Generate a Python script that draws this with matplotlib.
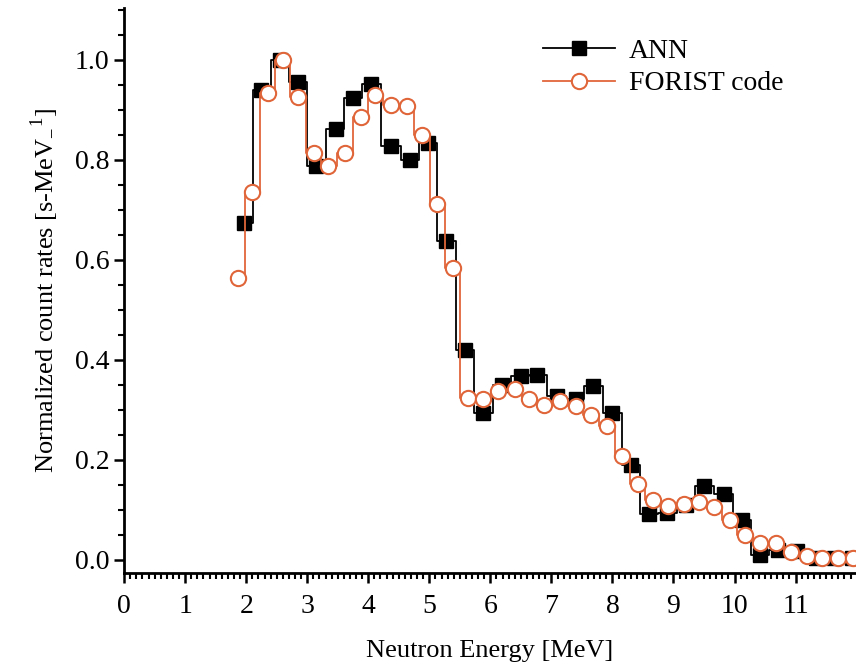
import numpy as np
import matplotlib
matplotlib.use("Agg")
import matplotlib.pyplot as plt
from matplotlib.ticker import MultipleLocator

plt.rcParams["font.family"] = ["Liberation Serif", "DejaVu Serif"]
plt.rcParams["mathtext.fontset"] = "custom"
plt.rcParams["mathtext.rm"] = "Liberation Serif"

# ANN unfolded spectrum
ann_e = [1.96, 2.25, 2.55, 2.85, 3.15, 3.47, 3.75, 4.05, 4.37, 4.69, 4.98, 5.28,
         5.58, 5.88, 6.19, 6.50, 6.77, 7.09, 7.40, 7.68, 8.00, 8.31, 8.60, 8.90,
         9.20, 9.50, 9.82, 10.13, 10.42, 10.72, 11.02, 11.33, 11.63, 11.93]
ann_y = [0.674, 0.940, 1.000, 0.955, 0.788, 0.862, 0.924, 0.952, 0.828, 0.799, 0.834, 0.638,
         0.420, 0.293, 0.349, 0.368, 0.369, 0.327, 0.322, 0.348, 0.293, 0.190, 0.092, 0.094,
         0.110, 0.148, 0.132, 0.080, 0.010, 0.019, 0.018, 0.004, 0.004, 0.004]

# FORIST code spectrum
forist_e = [1.87, 2.10, 2.35, 2.60, 2.85, 3.11, 3.34, 3.62, 3.88, 4.11, 4.37, 4.63, 4.88, 5.13,
            5.39, 5.63, 5.88, 6.13, 6.40, 6.64, 6.88, 7.14, 7.40, 7.65, 7.91, 8.16, 8.42, 8.66,
            8.91, 9.17, 9.41, 9.67, 9.92, 10.17, 10.42, 10.68, 10.93, 11.18, 11.43, 11.69, 11.94]
forist_y = [0.564, 0.736, 0.934, 1.000, 0.926, 0.814, 0.788, 0.814, 0.886, 0.930, 0.910, 0.907, 0.850, 0.712,
            0.584, 0.324, 0.322, 0.337, 0.341, 0.322, 0.310, 0.318, 0.307, 0.289, 0.268, 0.208, 0.151, 0.120,
            0.108, 0.111, 0.115, 0.105, 0.080, 0.050, 0.033, 0.033, 0.015, 0.007, 0.004, 0.004, 0.004]

orange = "#e0663a"

fig = plt.figure(figsize=(8.56, 6.67), dpi=100)
ax = fig.add_axes([0.145, 0.141, 0.855, 0.847])

ax.plot(ann_e, ann_y, color="black", lw=1.3, drawstyle="steps-mid",
        marker="s", ms=10, mfc="black", mec="black", label="ANN", zorder=3)
ax.plot(forist_e, forist_y, color=orange, lw=1.3, drawstyle="steps-mid",
        marker="o", ms=11, mfc="white", mec=orange, mew=1.5, label="FORIST code", zorder=4)

ax.set_xlim(0, 11.99)
ax.set_ylim(-0.026, 1.104)
ax.xaxis.set_major_locator(MultipleLocator(1))
ax.xaxis.set_minor_locator(MultipleLocator(0.1))
ax.yaxis.set_minor_locator(MultipleLocator(0.05))
ax.set_yticks([0.0, 0.2, 0.4, 0.6, 0.8, 1.0])
ax.set_yticklabels(["0.0", "0.2", "0.4", "0.6", "0.8", "1.0"])

for s in ["top", "right"]:
    ax.spines[s].set_visible(False)
for s in ["left", "bottom"]:
    ax.spines[s].set_linewidth(2)

ax.tick_params(which="major", direction="out", length=7, width=1.8, labelsize=20)
ax.tick_params(which="minor", direction="out", length=4, width=1.5)
ax.tick_params(axis="x", pad=8)

ax.set_xlabel("Neutron Energy [MeV]", fontsize=19, labelpad=15)
ax.set_ylabel(r"Normalized count rates [s-MeV$_{\mathregular{-}}$$^{\mathregular{1}}$]", fontsize=19, labelpad=10)

ax.legend(loc="upper right", bbox_to_anchor=(0.935, 0.99), frameon=False, fontsize=20,
          handlelength=2.6, handletextpad=0.5, labelspacing=0.25)

fig.savefig("out.png", dpi=100)
